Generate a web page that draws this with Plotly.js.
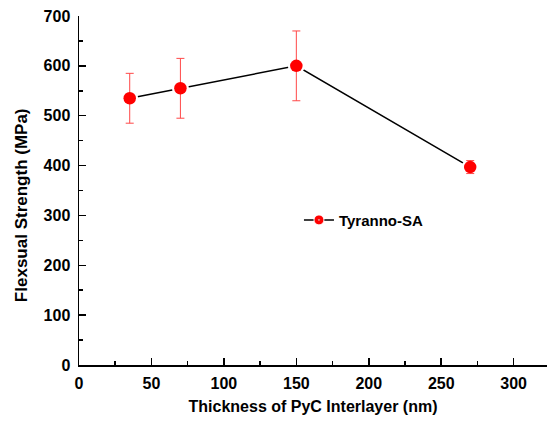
<!DOCTYPE html>
<html>
<head>
<meta charset="utf-8">
<script src="https://cdn.plot.ly/plotly-3.0.1.min.js"></script>
<style>html,body{margin:0;padding:0;background:#fff;}#chart{width:552px;height:421px;}</style>
</head>
<body>
<div id="chart"></div>
<script>
var thickness = [35, 70, 150, 270];
var strength = [535, 555, 600, 397];
var errors = [50, 60, 70, 13];
var seriesName = 'Tyranno-SA';
var xTitle = 'Thickness of PyC Interlayer (nm)';
var yTitle = 'Flexsual Strength (MPa)';

var FONT = 'Liberation Sans, Arial, sans-serif';

// line with white gaps around the points
var lineTrace = {
  x: thickness, y: strength, type: 'scatter', mode: 'lines+markers',
  showlegend: false, hoverinfo: 'skip',
  line: {color: '#000', width: 1.5},
  marker: {color: '#fff', size: 17, symbol: 'circle', line: {width: 0}}
};
// red points with error bars
var pointTrace = {
  x: thickness, y: strength, type: 'scatter', mode: 'markers',
  showlegend: false,
  marker: {color: '#ff0000', size: 12.5, symbol: 'circle', line: {width: 0}},
  error_y: {type: 'data', array: errors, visible: true, color: '#ff4848', thickness: 1, width: 4}
};
var legendTrace = {
  x: [null], y: [null], type: 'scatter', mode: 'lines+markers',
  name: seriesName,
  line: {color: '#000', width: 1.5},
  marker: {color: '#ff0000', size: 10, symbol: 'circle-dot', line: {color: '#fff', width: 1}}
};

var layout = {
  width: 552, height: 421,
  margin: {l: 79, r: 5, t: 16, b: 56},
  paper_bgcolor: '#fff', plot_bgcolor: '#fff',
  font: {family: FONT, color: '#000', size: 16, weight: 'bold'},
  showlegend: true,
  legend: {x: 0.47, y: 0.415, xanchor: 'left', yanchor: 'middle', bgcolor: 'rgba(0,0,0,0)',
           font: {family: FONT, size: 15, weight: 'bold', color: '#000'}},
  xaxis: {
    range: [0, 323], dtick: 50, tick0: 0,
    showgrid: false, zeroline: false, showline: true, linecolor: '#000', linewidth: 1.5,
    ticks: 'inside', ticklen: 7, tickwidth: 1.5, tickcolor: '#000',
    minor: {ticks: 'inside', ticklen: 4, dtick: 25, tickwidth: 1.5, tickcolor: '#000', showgrid: false},
    ticklabelstandoff: 3,
    tickfont: {family: FONT, size: 16, weight: 'bold'},
    title: {text: xTitle, font: {family: FONT, size: 16, weight: 'bold'}, standoff: 10}
  },
  yaxis: {
    range: [0, 700], dtick: 100, tick0: 0,
    showgrid: false, zeroline: false, showline: true, linecolor: '#000', linewidth: 1.5,
    ticks: 'inside', ticklen: 7, tickwidth: 1.5, tickcolor: '#000',
    minor: {ticks: 'inside', ticklen: 4, dtick: 50, tickwidth: 1.5, tickcolor: '#000', showgrid: false},
    ticklabelstandoff: 4,
    tickfont: {family: FONT, size: 16, weight: 'bold'}
  },
  annotations: [{
    text: yTitle, textangle: -90, showarrow: false,
    xref: 'paper', yref: 'paper', x: -0.124, y: 0.458, xanchor: 'center', yanchor: 'middle',
    font: {family: FONT, size: 17, weight: 'bold', color: '#000'}
  }]
};
Plotly.newPlot('chart', [lineTrace, pointTrace, legendTrace], layout, {displayModeBar: false, staticPlot: true});
</script>
</body>
</html>
